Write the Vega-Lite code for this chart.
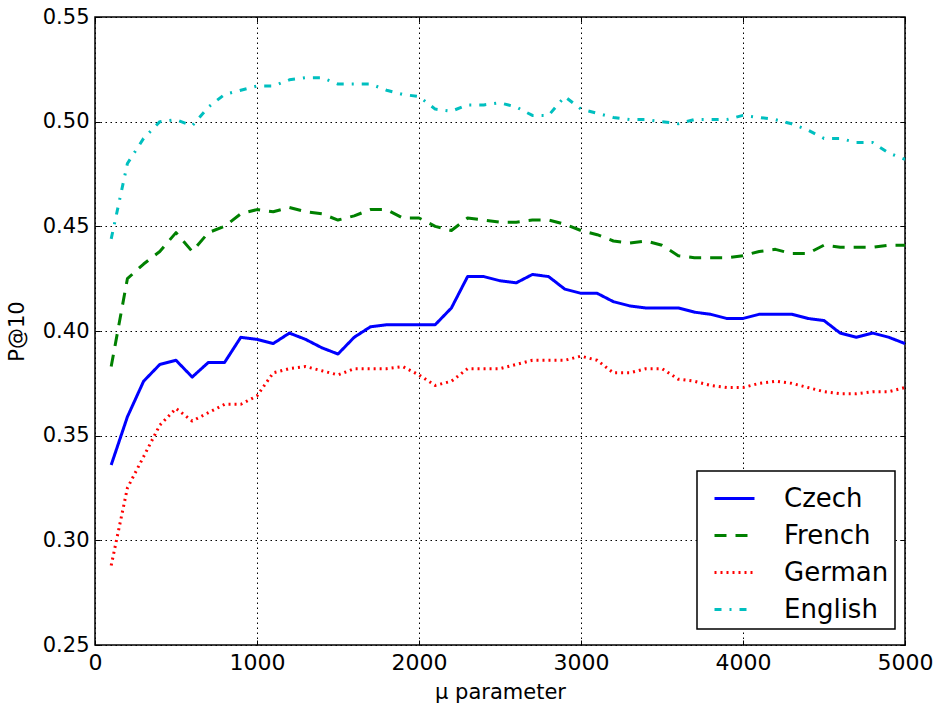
{
  "$schema": "https://vega.github.io/schema/vega-lite/v6.json",
  "width": 810,
  "height": 628,
  "autosize": {"type": "none"},
  "padding": {"left": 95, "top": 17, "right": 31, "bottom": 60},
  "background": "white",
  "config": {
    "font": "DejaVu Sans",
    "view": {"stroke": "black", "strokeWidth": 1.5},
    "axis": {
      "labelFont": "DejaVu Sans",
      "labelFontSize": 21,
      "labelColor": "black",
      "labelFlush": false,
      "titleFont": "DejaVu Sans",
      "titleFontSize": 21,
      "titleFontWeight": "normal",
      "titleColor": "black",
      "domain": false,
      "tickColor": "black",
      "tickWidth": 1,
      "tickSize": -5,
      "gridColor": "black",
      "gridDash": [1.5, 3.5],
      "gridWidth": 1,
      "gridOpacity": 1
    },
    "legend": {
      "orient": "none",
      "legendX": 602,
      "legendY": 454,
      "padding": 6,
      "strokeColor": "black",
      "strokeWidth": 1.5,
      "fillColor": "white",
      "cornerRadius": 0,
      "labelFont": "DejaVu Sans",
      "labelFontSize": 26,
      "labelColor": "black",
      "symbolType": "stroke",
      "symbolSize": 1600,
      "symbolStrokeWidth": 3,
      "symbolOffset": 10,
      "labelOffset": 28,
      "rowPadding": 2
    }
  },
  "data": {
    "values": [
      {"mu":100,"lang":"Czech","p":0.336},{"mu":200,"lang":"Czech","p":0.359},{"mu":300,"lang":"Czech","p":0.376},{"mu":400,"lang":"Czech","p":0.384},{"mu":500,"lang":"Czech","p":0.386},{"mu":600,"lang":"Czech","p":0.378},{"mu":700,"lang":"Czech","p":0.385},{"mu":800,"lang":"Czech","p":0.385},{"mu":900,"lang":"Czech","p":0.397},{"mu":1000,"lang":"Czech","p":0.396},
      {"mu":1100,"lang":"Czech","p":0.394},{"mu":1200,"lang":"Czech","p":0.399},{"mu":1300,"lang":"Czech","p":0.396},{"mu":1400,"lang":"Czech","p":0.392},{"mu":1500,"lang":"Czech","p":0.389},{"mu":1600,"lang":"Czech","p":0.397},{"mu":1700,"lang":"Czech","p":0.402},{"mu":1800,"lang":"Czech","p":0.403},{"mu":1900,"lang":"Czech","p":0.403},{"mu":2000,"lang":"Czech","p":0.403},
      {"mu":2100,"lang":"Czech","p":0.403},{"mu":2200,"lang":"Czech","p":0.411},{"mu":2300,"lang":"Czech","p":0.426},{"mu":2400,"lang":"Czech","p":0.426},{"mu":2500,"lang":"Czech","p":0.424},{"mu":2600,"lang":"Czech","p":0.423},{"mu":2700,"lang":"Czech","p":0.427},{"mu":2800,"lang":"Czech","p":0.426},{"mu":2900,"lang":"Czech","p":0.420},{"mu":3000,"lang":"Czech","p":0.418},
      {"mu":3100,"lang":"Czech","p":0.418},{"mu":3200,"lang":"Czech","p":0.414},{"mu":3300,"lang":"Czech","p":0.412},{"mu":3400,"lang":"Czech","p":0.411},{"mu":3500,"lang":"Czech","p":0.411},{"mu":3600,"lang":"Czech","p":0.411},{"mu":3700,"lang":"Czech","p":0.409},{"mu":3800,"lang":"Czech","p":0.408},{"mu":3900,"lang":"Czech","p":0.406},{"mu":4000,"lang":"Czech","p":0.406},
      {"mu":4100,"lang":"Czech","p":0.408},{"mu":4200,"lang":"Czech","p":0.408},{"mu":4300,"lang":"Czech","p":0.408},{"mu":4400,"lang":"Czech","p":0.406},{"mu":4500,"lang":"Czech","p":0.405},{"mu":4600,"lang":"Czech","p":0.399},{"mu":4700,"lang":"Czech","p":0.397},{"mu":4800,"lang":"Czech","p":0.399},{"mu":4900,"lang":"Czech","p":0.397},{"mu":5000,"lang":"Czech","p":0.394},

      {"mu":100,"lang":"French","p":0.383},{"mu":200,"lang":"French","p":0.425},{"mu":300,"lang":"French","p":0.432},{"mu":400,"lang":"French","p":0.438},{"mu":500,"lang":"French","p":0.447},{"mu":600,"lang":"French","p":0.438},{"mu":700,"lang":"French","p":0.447},{"mu":800,"lang":"French","p":0.450},{"mu":900,"lang":"French","p":0.456},{"mu":1000,"lang":"French","p":0.458},
      {"mu":1100,"lang":"French","p":0.457},{"mu":1200,"lang":"French","p":0.459},{"mu":1300,"lang":"French","p":0.457},{"mu":1400,"lang":"French","p":0.456},{"mu":1500,"lang":"French","p":0.453},{"mu":1600,"lang":"French","p":0.455},{"mu":1700,"lang":"French","p":0.458},{"mu":1800,"lang":"French","p":0.458},{"mu":1900,"lang":"French","p":0.454},{"mu":2000,"lang":"French","p":0.454},
      {"mu":2100,"lang":"French","p":0.450},{"mu":2200,"lang":"French","p":0.448},{"mu":2300,"lang":"French","p":0.454},{"mu":2400,"lang":"French","p":0.453},{"mu":2500,"lang":"French","p":0.452},{"mu":2600,"lang":"French","p":0.452},{"mu":2700,"lang":"French","p":0.453},{"mu":2800,"lang":"French","p":0.453},{"mu":2900,"lang":"French","p":0.451},{"mu":3000,"lang":"French","p":0.448},
      {"mu":3100,"lang":"French","p":0.446},{"mu":3200,"lang":"French","p":0.443},{"mu":3300,"lang":"French","p":0.442},{"mu":3400,"lang":"French","p":0.443},{"mu":3500,"lang":"French","p":0.441},{"mu":3600,"lang":"French","p":0.436},{"mu":3700,"lang":"French","p":0.435},{"mu":3800,"lang":"French","p":0.435},{"mu":3900,"lang":"French","p":0.435},{"mu":4000,"lang":"French","p":0.436},
      {"mu":4100,"lang":"French","p":0.438},{"mu":4200,"lang":"French","p":0.439},{"mu":4300,"lang":"French","p":0.437},{"mu":4400,"lang":"French","p":0.437},{"mu":4500,"lang":"French","p":0.441},{"mu":4600,"lang":"French","p":0.440},{"mu":4700,"lang":"French","p":0.440},{"mu":4800,"lang":"French","p":0.440},{"mu":4900,"lang":"French","p":0.441},{"mu":5000,"lang":"French","p":0.441},

      {"mu":100,"lang":"German","p":0.288},{"mu":200,"lang":"German","p":0.325},{"mu":300,"lang":"German","p":0.340},{"mu":400,"lang":"German","p":0.355},{"mu":500,"lang":"German","p":0.363},{"mu":600,"lang":"German","p":0.357},{"mu":700,"lang":"German","p":0.361},{"mu":800,"lang":"German","p":0.365},{"mu":900,"lang":"German","p":0.365},{"mu":1000,"lang":"German","p":0.369},
      {"mu":1100,"lang":"German","p":0.380},{"mu":1200,"lang":"German","p":0.382},{"mu":1300,"lang":"German","p":0.383},{"mu":1400,"lang":"German","p":0.381},{"mu":1500,"lang":"German","p":0.379},{"mu":1600,"lang":"German","p":0.382},{"mu":1700,"lang":"German","p":0.382},{"mu":1800,"lang":"German","p":0.382},{"mu":1900,"lang":"German","p":0.383},{"mu":2000,"lang":"German","p":0.379},
      {"mu":2100,"lang":"German","p":0.374},{"mu":2200,"lang":"German","p":0.376},{"mu":2300,"lang":"German","p":0.382},{"mu":2400,"lang":"German","p":0.382},{"mu":2500,"lang":"German","p":0.382},{"mu":2600,"lang":"German","p":0.384},{"mu":2700,"lang":"German","p":0.386},{"mu":2800,"lang":"German","p":0.386},{"mu":2900,"lang":"German","p":0.386},{"mu":3000,"lang":"German","p":0.388},
      {"mu":3100,"lang":"German","p":0.386},{"mu":3200,"lang":"German","p":0.380},{"mu":3300,"lang":"German","p":0.380},{"mu":3400,"lang":"German","p":0.382},{"mu":3500,"lang":"German","p":0.382},{"mu":3600,"lang":"German","p":0.377},{"mu":3700,"lang":"German","p":0.376},{"mu":3800,"lang":"German","p":0.374},{"mu":3900,"lang":"German","p":0.373},{"mu":4000,"lang":"German","p":0.373},
      {"mu":4100,"lang":"German","p":0.375},{"mu":4200,"lang":"German","p":0.376},{"mu":4300,"lang":"German","p":0.375},{"mu":4400,"lang":"German","p":0.373},{"mu":4500,"lang":"German","p":0.371},{"mu":4600,"lang":"German","p":0.370},{"mu":4700,"lang":"German","p":0.370},{"mu":4800,"lang":"German","p":0.371},{"mu":4900,"lang":"German","p":0.371},{"mu":5000,"lang":"German","p":0.373},

      {"mu":100,"lang":"English","p":0.444},{"mu":200,"lang":"English","p":0.480},{"mu":300,"lang":"English","p":0.492},{"mu":400,"lang":"English","p":0.500},{"mu":500,"lang":"English","p":0.501},{"mu":600,"lang":"English","p":0.498},{"mu":700,"lang":"English","p":0.507},{"mu":800,"lang":"English","p":0.513},{"mu":900,"lang":"English","p":0.515},{"mu":1000,"lang":"English","p":0.517},
      {"mu":1100,"lang":"English","p":0.517},{"mu":1200,"lang":"English","p":0.520},{"mu":1300,"lang":"English","p":0.521},{"mu":1400,"lang":"English","p":0.521},{"mu":1500,"lang":"English","p":0.518},{"mu":1600,"lang":"English","p":0.518},{"mu":1700,"lang":"English","p":0.518},{"mu":1800,"lang":"English","p":0.515},{"mu":1900,"lang":"English","p":0.513},{"mu":2000,"lang":"English","p":0.512},
      {"mu":2100,"lang":"English","p":0.506},{"mu":2200,"lang":"English","p":0.505},{"mu":2300,"lang":"English","p":0.508},{"mu":2400,"lang":"English","p":0.508},{"mu":2500,"lang":"English","p":0.509},{"mu":2600,"lang":"English","p":0.507},{"mu":2700,"lang":"English","p":0.503},{"mu":2800,"lang":"English","p":0.503},{"mu":2900,"lang":"English","p":0.512},{"mu":3000,"lang":"English","p":0.506},
      {"mu":3100,"lang":"English","p":0.504},{"mu":3200,"lang":"English","p":0.502},{"mu":3300,"lang":"English","p":0.501},{"mu":3400,"lang":"English","p":0.501},{"mu":3500,"lang":"English","p":0.500},{"mu":3600,"lang":"English","p":0.499},{"mu":3700,"lang":"English","p":0.501},{"mu":3800,"lang":"English","p":0.501},{"mu":3900,"lang":"English","p":0.501},{"mu":4000,"lang":"English","p":0.503},
      {"mu":4100,"lang":"English","p":0.502},{"mu":4200,"lang":"English","p":0.501},{"mu":4300,"lang":"English","p":0.499},{"mu":4400,"lang":"English","p":0.496},{"mu":4500,"lang":"English","p":0.492},{"mu":4600,"lang":"English","p":0.492},{"mu":4700,"lang":"English","p":0.490},{"mu":4800,"lang":"English","p":0.490},{"mu":4900,"lang":"English","p":0.485},{"mu":5000,"lang":"English","p":0.482}
    ]
  },
  "layer": [
    {
      "mark": {"type": "line", "strokeWidth": 3, "strokeCap": "butt", "strokeJoin": "round"},
      "encoding": {
        "x": {
          "field": "mu", "type": "quantitative",
          "scale": {"domain": [0, 5000], "nice": false},
          "axis": {"orient": "bottom", "values": [0, 1000, 2000, 3000, 4000, 5000], "title": "μ parameter", "grid": true, "labelPadding": 12, "labelFontSize": 22, "titlePadding": 8, "format": "d"}
        },
        "y": {
          "field": "p", "type": "quantitative",
          "scale": {"domain": [0.25, 0.55], "zero": false, "nice": false},
          "axis": {"orient": "left", "values": [0.25, 0.3, 0.35, 0.4, 0.45, 0.5, 0.55], "format": ".2f", "title": "P@10", "grid": true, "labelPadding": 11, "titlePadding": 15}
        },
        "color": {
          "field": "lang", "type": "nominal",
          "scale": {"domain": ["Czech", "French", "German", "English"], "range": ["#0000ff", "#008000", "#ff0000", "#00bfbf"]},
          "legend": {"title": null}
        },
        "strokeDash": {
          "field": "lang", "type": "nominal",
          "scale": {"domain": ["Czech", "French", "German", "English"], "range": [[1, 0], [12, 9], [2, 4], [7, 8, 2, 8]]},
          "legend": {"title": null}
        }
      }
    },
    {
      "mark": {"type": "point", "opacity": 0},
      "encoding": {
        "x": {
          "field": "mu", "type": "quantitative",
          "scale": {"domain": [0, 5000], "nice": false},
          "axis": {"orient": "top", "values": [0, 1000, 2000, 3000, 4000, 5000], "labels": false, "title": null, "grid": false}
        },
        "y": {
          "field": "p", "type": "quantitative",
          "scale": {"domain": [0.25, 0.55], "zero": false, "nice": false},
          "axis": {"orient": "right", "values": [0.25, 0.3, 0.35, 0.4, 0.45, 0.5, 0.55], "labels": false, "title": null, "grid": false}
        }
      }
    }
  ],
  "resolve": {"axis": {"x": "independent", "y": "independent"}}
}
